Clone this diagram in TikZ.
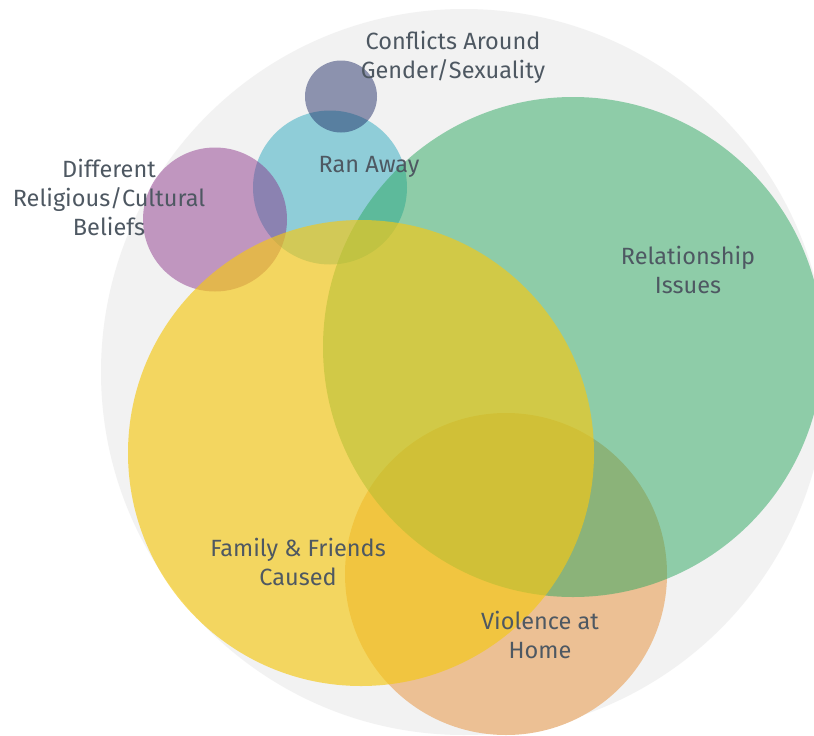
\documentclass[tikz,border=0pt]{standalone}
\usepackage{fontspec}
\setmainfont{Fira Sans}
\begin{document}
\begin{tikzpicture}[x=1pt,y=-1pt,
  lbl/.style={align=center,text=labeltext,inner sep=0pt,font=\fontsize{23.5}{29}\selectfont}]
\definecolor{labeltext}{RGB}{78,88,98}
\definecolor{cgray}{RGB}{242,242,242}
\definecolor{corange}{RGB}{236,192,148}
\definecolor{cblue}{RGB}{143,205,216}
\definecolor{cpurple}{RGB}{135,42,133}
\definecolor{cdark}{RGB}{30,42,100}
\definecolor{cgreen}{RGB}{44,168,96}
\definecolor{cyellow}{RGB}{245,200,21}
\useasboundingbox (0,0) rectangle (814,736);
\fill[white] (0,0) rectangle (814,736);
\fill[cgray] (464,372) circle[radius=363];
\fill[corange] (506,574) circle[radius=161];
\fill[cblue] (330,187.5) circle[radius=77];
\fill[cpurple,fill opacity=0.46] (215,219.5) circle[radius=72];
\fill[cdark,fill opacity=0.48] (341,96.5) circle[radius=36];
\fill[cgreen,fill opacity=0.5] (573,347) circle[radius=250];
\fill[cyellow,fill opacity=0.66] (361,453) circle[radius=233];
\node[lbl] (conflicts) at (453,57.5) {Conflicts Around\\Gender/Sexuality};
\node[lbl] (ranaway) at (369,167) {Ran Away};
\node[lbl] (beliefs) at (109,197) {Different\\Religious/Cultural\\Beliefs};
\node[lbl] (relation) at (688,269.5) {Relationship\\Issues};
\node[lbl] (family) at (298,561.5) {Family \& Friends\\Caused};
\node[lbl] (violence) at (540,634.5) {Violence at\\Home};
\end{tikzpicture}
\end{document}
